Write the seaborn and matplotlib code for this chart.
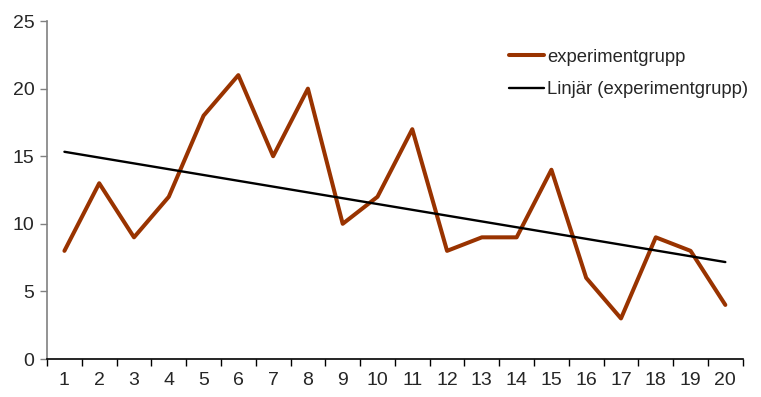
import matplotlib
matplotlib.use("Agg")
import matplotlib.pyplot as plt
import seaborn as sns
import numpy as np
import pandas as pd

# DATA
days = list(range(1, 21))
experimentgrupp = [8, 13, 9, 12, 18, 21, 15, 20, 10, 12, 17, 8, 9, 9, 14, 6, 3, 9, 8, 4]

df = pd.DataFrame({"dag": days, "experimentgrupp": experimentgrupp})

# linear trend (Excel "Linjär")
k, m = np.polyfit(df["dag"], df["experimentgrupp"], 1)
df["trend"] = k * df["dag"] + m

sns.set_style("white")
plt.rcParams["font.family"] = ["Liberation Sans", "DejaVu Sans"]
FS = 14

fig = plt.figure(figsize=(7.61, 3.97), dpi=100)
ax = fig.add_axes([0.0618, 0.0957, 0.9142, 0.8513])

sns.lineplot(data=df, x="dag", y="experimentgrupp", color="#993300",
             linewidth=2.9, label="experimentgrupp", ax=ax)
sns.lineplot(data=df, x="dag", y="trend", color="black",
             linewidth=1.7, label="Linjär (experimentgrupp)", ax=ax)

ax.set_xlim(0.5, 20.5)
ax.set_ylim(0, 25)
ax.set_yticks(range(0, 26, 5))
ax.set_xlabel("")
ax.set_ylabel("")

# category axis: ticks between categories, labels centred
ax.set_xticks(np.arange(0.5, 21, 1))
ax.set_xticklabels([])
ax.set_xticks(days, minor=True)
ax.set_xticklabels([str(d) for d in days], minor=True)
ax.tick_params(axis="x", which="major", direction="out", length=5, width=1,
               color="black", bottom=True)
ax.tick_params(axis="x", which="minor", length=0, labelsize=FS, pad=9)
ax.tick_params(axis="y", direction="out", length=5, width=1, color="#808080",
               left=True, labelsize=FS, pad=4)

for s in ["top", "right"]:
    ax.spines[s].set_visible(False)
ax.spines["left"].set_color("#808080")
ax.spines["left"].set_linewidth(1.2)
ax.spines["bottom"].set_color("black")
ax.spines["bottom"].set_linewidth(1.2)

leg = ax.legend(loc="upper left", bbox_to_anchor=(0.654, 0.94), frameon=False,
                fontsize=13.3, handlelength=1.85, handletextpad=0.2,
                labelspacing=0.85, borderaxespad=0)

fig.savefig("out.png", dpi=100)
